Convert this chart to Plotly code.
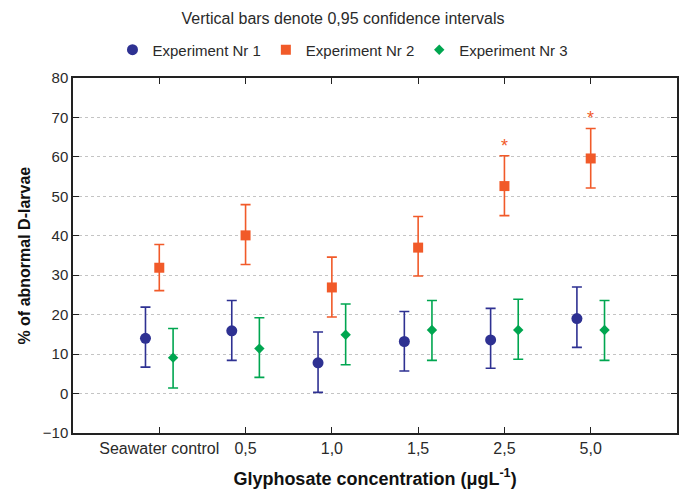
import plotly.graph_objects as go

categories = ["Seawater control", "0,5", "1,0", "1,5", "2,5", "5,0"]
exp1_mean = [14.0, 15.9, 7.8, 13.2, 13.6, 19.0]
exp1_upper = [21.9, 23.6, 15.6, 20.8, 21.6, 27.0]
exp1_lower = [6.7, 8.4, 0.3, 5.7, 6.4, 11.7]
exp2_mean = [31.9, 40.1, 26.9, 37.0, 52.6, 59.6]
exp2_upper = [37.8, 47.9, 34.6, 44.9, 60.3, 67.2]
exp2_lower = [26.1, 32.7, 19.4, 29.8, 45.1, 52.1]
exp3_mean = [9.1, 11.4, 14.9, 16.1, 16.1, 16.1]
exp3_upper = [16.5, 19.2, 22.7, 23.6, 23.9, 23.6]
exp3_lower = [1.4, 4.1, 7.3, 8.4, 8.7, 8.4]
significant = [False, False, False, False, True, True]

series = [
    ("Experiment Nr 1", exp1_mean, exp1_upper, exp1_lower, "#2e3192", "circle", 11, -0.16),
    ("Experiment Nr 2", exp2_mean, exp2_upper, exp2_lower, "#f15a29", "square", 10, 0.0),
    ("Experiment Nr 3", exp3_mean, exp3_upper, exp3_lower, "#00a650", "diamond", 8, 0.16),
]

FONT = "Liberation Sans, Arial, sans-serif"
TXT = "#2a2a2a"
fig = go.Figure()
idx = list(range(len(categories)))
for name, m, up, lo, col, sym, sz, off in series:
    fig.add_trace(go.Scatter(
        x=[i + off for i in idx], y=m, mode="markers", name=name,
        marker=dict(symbol=sym, size=sz, color=col),
        error_y=dict(type="data", symmetric=False,
                     array=[u - v for u, v in zip(up, m)],
                     arrayminus=[v - l for v, l in zip(m, lo)],
                     color=col, thickness=1.6, width=5),
    ))

for i, s in enumerate(significant):
    if s:
        fig.add_annotation(x=i, y=exp2_upper[i], text="*", showarrow=False,
                           yanchor="bottom", yshift=-2,
                           font=dict(family=FONT, size=18, color="#f15a29"))

fig.add_annotation(text="<b>% of abnormal D-larvae</b>", textangle=-90,
                   xref="paper", yref="paper", x=-0.081, y=0.5,
                   xanchor="center", yanchor="middle", showarrow=False,
                   font=dict(family=FONT, size=16, color="#111"))

fig.update_layout(
    width=686, height=495,
    margin=dict(l=73, r=9, t=78, b=61.5, autoexpand=False),
    paper_bgcolor="white", plot_bgcolor="white",
    font=dict(family=FONT, size=15, color=TXT),
    title=dict(text="Vertical bars denote 0,95 confidence intervals",
               x=0.5, xref="container", xanchor="center",
               y=1 - 18 / 495, yref="container", yanchor="middle",
               font=dict(family=FONT, size=16, color=TXT)),
    legend=dict(orientation="h", x=0.447, xanchor="center",
                y=1.079, yanchor="middle", font=dict(family=FONT, size=15, color=TXT),
                itemwidth=30),
    showlegend=True,
)
fig.update_xaxes(
    range=[-1, 6], tickmode="array", tickvals=idx, ticktext=categories,
    ticks="inside", ticklen=6, tickcolor="#222", mirror="ticks", tickangle=0,
    showline=True, linecolor="#222", linewidth=1.5, showgrid=False, zeroline=False,
    title=dict(text="<b>Glyphosate concentration (μgL<sup>-1</sup>)</b>",
               font=dict(family=FONT, size=18, color="#111"), standoff=16),
    tickfont=dict(family=FONT, size=16, color=TXT),
)
fig.update_yaxes(
    range=[-10, 80], dtick=10, ticks="inside", ticklen=6, tickcolor="#222",
    mirror="ticks", showline=True, linecolor="#222", linewidth=1.5,
    showgrid=True, gridcolor="#c4c4c4", griddash="dot", gridwidth=1, zeroline=False,
    tickfont=dict(family=FONT, size=15, color=TXT),
)

fig.write_html("out.html")
